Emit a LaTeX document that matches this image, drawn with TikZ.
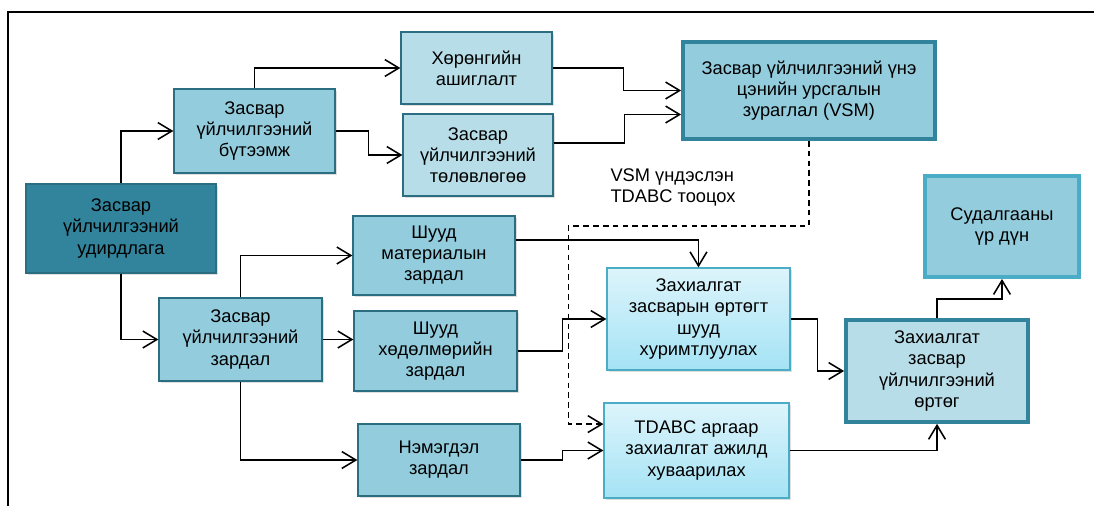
\documentclass[tikz,border=0pt]{standalone}
\usepackage{fontspec}
\setmainfont{Liberation Sans}
\usetikzlibrary{arrows.meta, calc, shadows}
\definecolor{tealdark}{HTML}{31849B}
\definecolor{tealedge}{HTML}{2B6E82}
\definecolor{bluemid}{HTML}{93CDDD}
\definecolor{bluelight}{HTML}{B7DEE8}
\definecolor{tealbright}{HTML}{4BACC6}
\definecolor{cyantop}{HTML}{DDF4FB}
\definecolor{cyanbot}{HTML}{A4E3F5}
\tikzset{
  box/.style = {draw=tealedge, line width=0.9pt, fill=bluemid, align=center, inner sep=2pt,
    font=\fontsize{13}{15}\selectfont,
    drop shadow={opacity=0.25, shadow xshift=1.2pt, shadow yshift=-1.2pt}},
  sz/.style 2 args = {minimum width=#1, minimum height=#2},
  pale/.style = {box, fill=bluelight},
  dark/.style = {box, fill=tealdark},
  thick box/.style = {box, line width=2.6pt, draw=tealdark},
  shade box/.style = {box, draw=tealbright, top color=cyantop, bottom color=cyanbot},
  arr/.style = {line width=1.1pt, -{Straight Barb[length=3.5mm, width=4.2mm, line width=1.1pt]}}
}

\begin{document}
\begin{tikzpicture}[x=0.025cm, y=-0.025cm]
\useasboundingbox (0,0) rectangle (1094,506);
\draw[line width=1pt] (1094,12) -- (8,12) -- (8,506);

\node[dark, sz={4.75cm}{2.225cm}] (U) at (121,228.5) {Засвар\\үйлчилгээний\\удирдлага};
\node[box, sz={4.025cm}{2.1cm}] (B) at (254.5,131) {Засвар\\үйлчилгээний\\бүтээмж};
\node[pale, sz={3.775cm}{1.8cm}] (H) at (476.5,68) {Хөрөнгийн\\ашиглалт};
\node[pale, sz={3.75cm}{2.05cm}] (T) at (478,155) {Засвар\\үйлчилгээний\\төлөвлөгөө};
\node[thick box, sz={6.3cm}{2.43cm}] (V) at (809,90.5) {Засвар үйлчилгээний үнэ\\цэнийн урсгалын\\зураглал (VSM)};
\node[box, sz={4.05cm}{1.975cm}] (M) at (434,255.5) {Шууд\\материалын\\зардал};
\node[box, sz={4.075cm}{2.075cm}] (Z) at (240.5,339.5) {Засвар\\үйлчилгээний\\зардал};
\node[box, sz={4.075cm}{2cm}] (L) at (435.5,351) {Шууд\\хөдөлмөрийн\\зардал};
\node[box, sz={4.05cm}{1.8cm}] (N) at (439,460) {Нэмэгдэл\\зардал};
\node[shade box, sz={4.575cm}{2.55cm}] (D) at (698.5,319) {Захиалгат\\засварын өртөгт\\шууд\\хуримтлуулах};
\node[shade box, sz={4.625cm}{2.375cm}] (A) at (696.5,450.5) {TDABC аргаар\\захиалгат ажилд\\хуваарилах};
\node[thick box, fill=bluelight, sz={4.55cm}{2.55cm}] (F) at (937,371) {Захиалгат\\засвар\\үйлчилгээний\\өртөг};
\node[thick box, draw=tealbright, sz={3.85cm}{2.53cm}] (R) at (1002,226.5) {Судалгааны\\үр дүн};
\node[align=left, font=\fontsize{13}{15}\selectfont] (lbl) at (673,187) {VSM үндэслэн\\TDABC тооцох};

\draw[arr] (U.north) |- (B.west);
\draw[arr] (B.north) |- (H.west);
\draw[arr] (B.east) -- ++(33,0) |- (T.west);
\draw[arr] (H.east) -- ++(71,0) |- (V.west);
\draw[arr] ([yshift=0.3cm]T.east) -- ++(71,0) |- ([yshift=-0.6cm]V.west);
\draw[arr] (U.south) |- (Z.west);
\draw[arr] (Z.north) |- (M.west);
\draw[arr] (Z.east) -- (Z.east -| L.west);
\draw[arr] (Z.south) |- (N.west);
\draw[arr] ([yshift=0.39cm]M.east) -| (D.north);
\draw[arr] (L.east) -- ++(45,0) |- (D.west);
\draw[arr] (N.east) -- ++(42,0) |- (A.west);
\coordinate (dd) at ([yshift=0.66cm]A.west);
\draw[arr, dash pattern=on 4pt off 3pt] (V.south) -- ++(0,85) -| ([xshift=-0.875cm]dd) -- (dd);
\draw[arr] (D.east) -- ++(27,0) |- (F.west);
\draw[arr] (A.east) -| (F.south);
\draw[arr] (F.north) -- ++(0,-19) -| (R.south);
\end{tikzpicture}
\end{document}
